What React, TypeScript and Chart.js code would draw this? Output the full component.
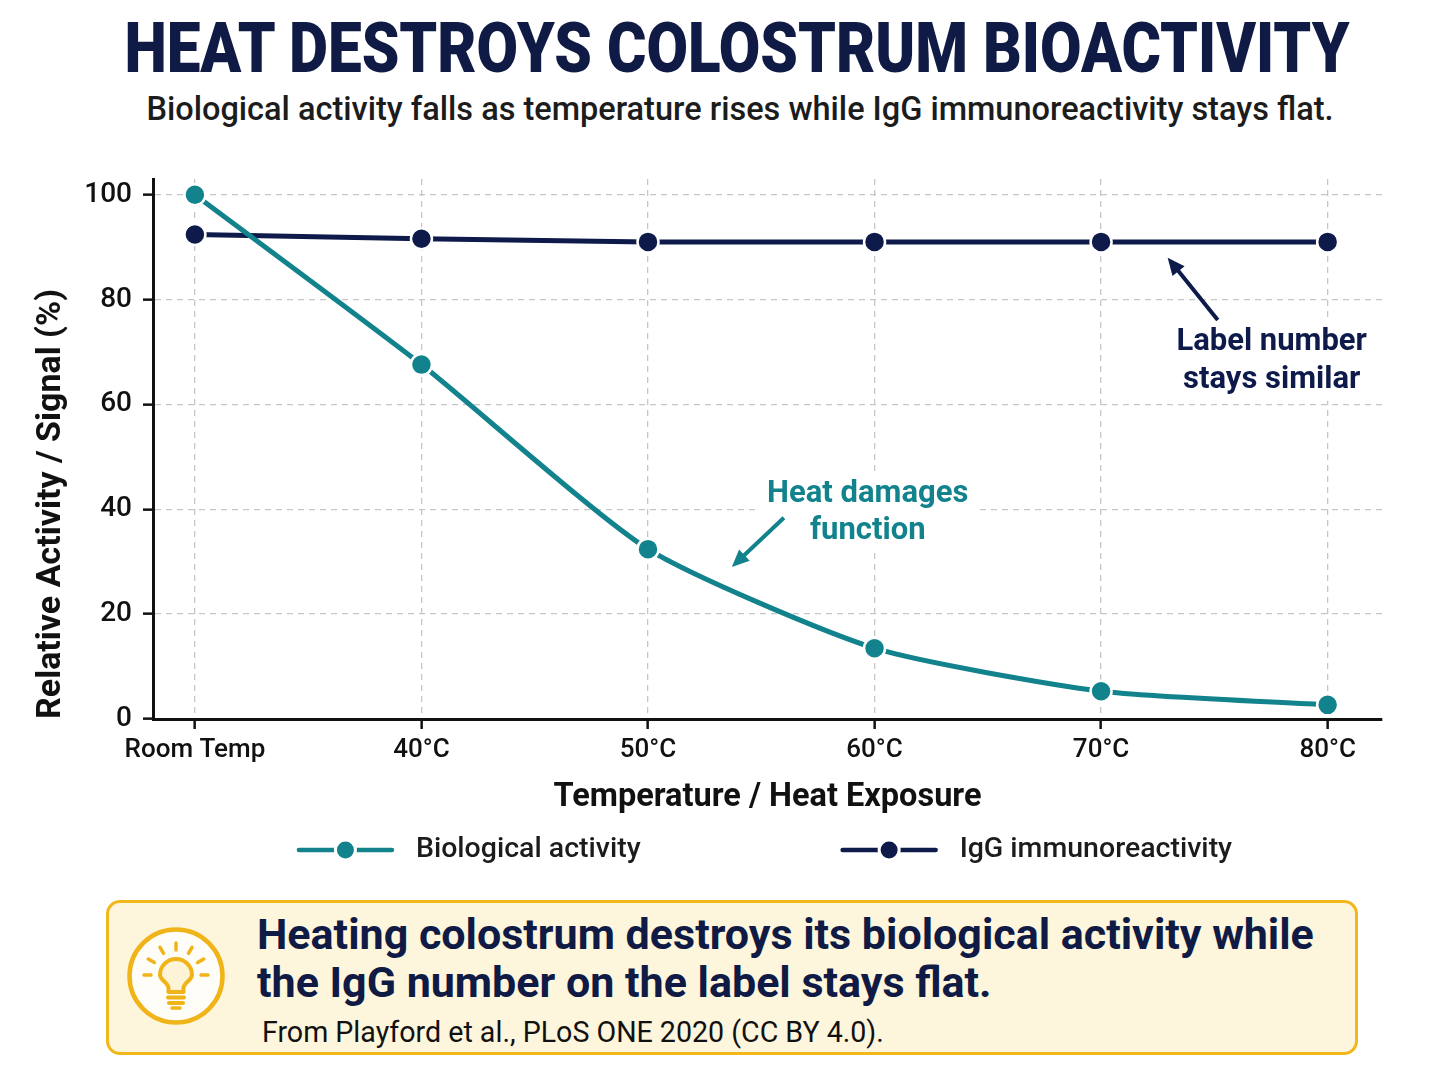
import React, { useEffect, useRef } from 'react';
import { Chart, registerables } from 'chart.js';

Chart.register(...registerables);

const TEAL = '#12838c';
const NAVY = '#0d1a4a';

// data
const categories = ['Room Temp', '40°C', '50°C', '60°C', '70°C', '80°C'];
const bioActivity = [100, 67.6, 32.4, 13.5, 5.3, 2.7];
const iggSignal = [92.4, 91.6, 91.0, 91.0, 91.0, 91.0];
const yTicks = [0, 20, 40, 60, 80, 100];

// callouts, in data units (x = category index, y = %)
const noteLines = [
    { text: 'Label number', x: 4.753, y: 71.8, color: NAVY },
    { text: 'stays similar', x: 4.753, y: 64.7, color: NAVY },
    { text: 'Heat damages', x: 2.97, y: 42.9, color: TEAL },
    { text: 'function', x: 2.97, y: 35.8, color: TEAL },
];
const arrows = [
    { from: [4.515, 76.1], to: [4.294, 88.0], color: NAVY },
    { from: [2.60, 38.4], to: [2.37, 29.0], color: TEAL },
];

const NOTE_FONT = '700 31px Roboto';

const calloutPlugin = {
    id: 'callouts',
    beforeDatasetsDraw(chart: any) {
        const { ctx, scales } = chart;
        ctx.save();
        ctx.font = NOTE_FONT;
        ctx.fillStyle = '#ffffff';
        noteLines.forEach(n => {
            const w = ctx.measureText(n.text).width;
            const cx = scales.x.getPixelForValue(n.x);
            const cy = scales.y.getPixelForValue(n.y);
            ctx.fillRect(cx - w / 2 - 10, cy - 21, w + 20, 42);
        });
        ctx.restore();
    },
    afterDatasetsDraw(chart: any) {
        const { ctx, scales } = chart;
        ctx.save();
        ctx.font = NOTE_FONT;
        ctx.textAlign = 'center';
        ctx.textBaseline = 'middle';
        noteLines.forEach(n => {
            ctx.fillStyle = n.color;
            ctx.fillText(n.text, scales.x.getPixelForValue(n.x), scales.y.getPixelForValue(n.y));
        });

        arrows.forEach(a => {
            const x1 = scales.x.getPixelForValue(a.from[0]);
            const y1 = scales.y.getPixelForValue(a.from[1]);
            const x2 = scales.x.getPixelForValue(a.to[0]);
            const y2 = scales.y.getPixelForValue(a.to[1]);
            const ang = Math.atan2(y2 - y1, x2 - x1);
            const head = 19;
            ctx.strokeStyle = a.color;
            ctx.fillStyle = a.color;
            ctx.lineWidth = 4;
            ctx.beginPath();
            ctx.moveTo(x1, y1);
            ctx.lineTo(x2 - Math.cos(ang) * head * 0.8, y2 - Math.sin(ang) * head * 0.8);
            ctx.stroke();
            ctx.beginPath();
            ctx.moveTo(x2, y2);
            ctx.lineTo(x2 - head * Math.cos(ang - 0.42), y2 - head * Math.sin(ang - 0.42));
            ctx.lineTo(x2 - head * Math.cos(ang + 0.42), y2 - head * Math.sin(ang + 0.42));
            ctx.closePath();
            ctx.fill();
        });
        ctx.restore();
    },
};

// legend with a line+dot sample, centred under the plot
const lineLegendPlugin = {
    id: 'lineLegend',
    afterDraw(chart: any) {
        const { ctx, chartArea } = chart;
        const sample = 93;
        const textGap = 24;
        const itemGap = 202;
        ctx.save();
        ctx.font = '500 28.5px Roboto';
        const items = chart.data.datasets.map((ds: any) => ({
            label: ds.label,
            color: ds.borderColor,
            w: sample + textGap + ctx.measureText(ds.label).width,
        }));
        const total = items.reduce((s: number, it: any) => s + it.w, 0) + itemGap * (items.length - 1);
        let x = (chartArea.left + chartArea.right) / 2 - 2 - total / 2;
        const y = chart.height - 30;
        items.forEach((it: any) => {
            ctx.strokeStyle = it.color;
            ctx.lineWidth = 4.5;
            ctx.lineCap = 'round';
            ctx.beginPath();
            ctx.moveTo(x, y);
            ctx.lineTo(x + sample, y);
            ctx.stroke();
            ctx.beginPath();
            ctx.arc(x + sample / 2, y, 10, 0, Math.PI * 2);
            ctx.fillStyle = it.color;
            ctx.fill();
            ctx.lineWidth = 3;
            ctx.strokeStyle = '#ffffff';
            ctx.stroke();
            ctx.fillStyle = '#1c1c1c';
            ctx.textAlign = 'left';
            ctx.textBaseline = 'middle';
            ctx.fillText(it.label, x + sample + textGap, y);
            x += it.w + itemGap;
        });
        ctx.restore();
    },
};

function HeatChart() {
    const canvasRef = useRef<HTMLCanvasElement>(null);
    const chartRef = useRef<Chart | null>(null);

    useEffect(() => {
        if (!canvasRef.current) return;
        if (chartRef.current) {
            chartRef.current.destroy();
        }
        const ctx = canvasRef.current.getContext('2d');
        if (!ctx) return;

        Chart.defaults.font.family = 'Roboto';

        const gridOpts = {
            color: '#c6c6c6',
            lineWidth: 1.3,
            tickColor: '#111111',
            tickWidth: 2.5,
            tickLength: 10,
        };
        const borderOpts = { display: true, color: '#111111', width: 3, dash: [6, 5] };

        chartRef.current = new Chart(ctx, {
            type: 'line',
            data: {
                datasets: [
                    {
                        label: 'Biological activity',
                        data: bioActivity.map((v, i) => ({ x: i, y: v })),
                        borderColor: TEAL,
                        backgroundColor: TEAL,
                        pointBackgroundColor: TEAL,
                        pointBorderColor: '#ffffff',
                        pointBorderWidth: 2.5,
                        pointRadius: 10.5,
                        borderWidth: 5,
                        tension: 0.2,
                        clip: false,
                    },
                    {
                        label: 'IgG immunoreactivity',
                        data: iggSignal.map((v, i) => ({ x: i, y: v })),
                        borderColor: NAVY,
                        backgroundColor: NAVY,
                        pointBackgroundColor: NAVY,
                        pointBorderColor: '#ffffff',
                        pointBorderWidth: 2.5,
                        pointRadius: 10.5,
                        borderWidth: 5,
                        clip: false,
                    },
                ],
            },
            options: {
                responsive: true,
                maintainAspectRatio: false,
                animation: false,
                layout: { padding: { top: 39, left: 0, right: 66, bottom: 51 } },
                plugins: {
                    legend: { display: false },
                    tooltip: { enabled: false },
                },
                scales: {
                    x: {
                        type: 'linear',
                        min: -0.185,
                        max: 5.24,
                        afterBuildTicks: (scale: any) => {
                            scale.ticks = categories.map((_, i) => ({ value: i }));
                        },
                        afterFit: (scale: any) => {
                            scale.height = 110;
                        },
                        grid: gridOpts,
                        border: borderOpts,
                        ticks: {
                            callback: (v: any) => categories[v as number] ?? '',
                            font: { size: 26, weight: 500 },
                            color: '#111111',
                            padding: 6,
                            maxRotation: 0,
                            autoSkip: false,
                        },
                        title: {
                            display: true,
                            text: 'Temperature / Heat Exposure',
                            font: { size: 32.5, weight: 700 },
                            color: '#111111',
                            padding: { top: 0, bottom: 12 },
                        },
                    },
                    y: {
                        min: 0,
                        max: 103,
                        afterBuildTicks: (scale: any) => {
                            scale.ticks = yTicks.map(v => ({ value: v }));
                        },
                        afterFit: (scale: any) => {
                            scale.width = 153;
                        },
                        grid: gridOpts,
                        border: borderOpts,
                        ticks: {
                            font: { size: 28, weight: 500 },
                            color: '#111111',
                            padding: 11,
                        },
                        title: {
                            display: true,
                            text: 'Relative Activity / Signal (%)',
                            align: 'start',
                            font: { size: 34, weight: 700 },
                            color: '#111111',
                            padding: { top: 31, bottom: 0 },
                        },
                    },
                },
            },
            plugins: [calloutPlugin, lineLegendPlugin],
        } as any);

        return () => {
            if (chartRef.current) {
                chartRef.current.destroy();
                chartRef.current = null;
            }
        };
    }, []);

    return (
        <div style={{ position: 'absolute', left: 0, top: 140, width: 1448, height: 740 }}>
            <canvas ref={canvasRef} />
        </div>
    );
}

function Bulb() {
    const rays = [-90, -60, -30, 0, 180, 210, 240];
    return (
        <svg width={100} height={100} viewBox="-50 -50 100 100"
            style={{ position: 'absolute', left: 126, top: 926 }}>
            <circle cx={0} cy={0} r={46.5} fill="#fffdf7" stroke="#f0b418" strokeWidth={4.5} />
            <path d="M -7.5 16 L -7.5 12 C -7.5 7 -16 4 -16 -1 A 16 16 0 1 1 16 -1 C 16 4 7.5 7 7.5 12 L 7.5 16 Z"
                fill="#fdf3d6" stroke="#f0b418" strokeWidth={4} strokeLinejoin="round" />
            <line x1={-8} y1={21.5} x2={8} y2={21.5} stroke="#f0b418" strokeWidth={4} strokeLinecap="round" />
            <line x1={-7} y1={27} x2={7} y2={27} stroke="#f0b418" strokeWidth={4} strokeLinecap="round" />
            <line x1={-4} y1={32} x2={4} y2={32} stroke="#f0b418" strokeWidth={3.5} strokeLinecap="round" />
            {rays.map(a => {
                const r = (a * Math.PI) / 180;
                return (
                    <line key={a}
                        x1={Math.cos(r) * 25} y1={-1 + Math.sin(r) * 25}
                        x2={Math.cos(r) * 32} y2={-1 + Math.sin(r) * 32}
                        stroke="#f0b418" strokeWidth={3.5} strokeLinecap="round" />
                );
            })}
        </svg>
    );
}

export default function App() {
    return (
        <div style={{
            position: 'absolute', left: 0, top: 0, width: 1448, height: 1086,
            background: '#ffffff', fontFamily: 'Roboto, sans-serif', overflow: 'hidden',
        }}>
            <div style={{
                position: 'absolute', top: 13, left: 13, width: 1448, textAlign: 'center',
                fontSize: 70, lineHeight: '70px', fontWeight: 900, color: '#0f1a45',
                transform: 'scaleX(0.86)', whiteSpace: 'nowrap',
            }}>
                HEAT DESTROYS COLOSTRUM BIOACTIVITY
            </div>
            <div style={{
                position: 'absolute', top: 93, left: 16, width: 1448, textAlign: 'center',
                fontSize: 32.5, lineHeight: '32.5px', fontWeight: 500, color: '#1c1c1c',
                whiteSpace: 'nowrap',
            }}>
                Biological activity falls as temperature rises while IgG immunoreactivity stays flat.
            </div>

            <HeatChart />

            <div style={{
                position: 'absolute', left: 106, top: 900, width: 1252, height: 155,
                boxSizing: 'border-box', border: '3px solid #f2b71b', borderRadius: 14,
                background: '#fdf5dc',
            }} />
            <Bulb />
            <div style={{
                position: 'absolute', left: 257, top: 910, fontSize: 43, lineHeight: '48px',
                fontWeight: 700, color: '#0f1a45', whiteSpace: 'nowrap',
            }}>
                Heating colostrum destroys its biological activity while<br />
                the IgG number on the label stays flat.
            </div>
            <div style={{
                position: 'absolute', left: 262, top: 1018, fontSize: 28.6, lineHeight: '28.6px',
                fontWeight: 400, color: '#111111', whiteSpace: 'nowrap',
            }}>
                From Playford et al., PLoS ONE 2020 (CC BY 4.0).
            </div>
        </div>
    );
}
